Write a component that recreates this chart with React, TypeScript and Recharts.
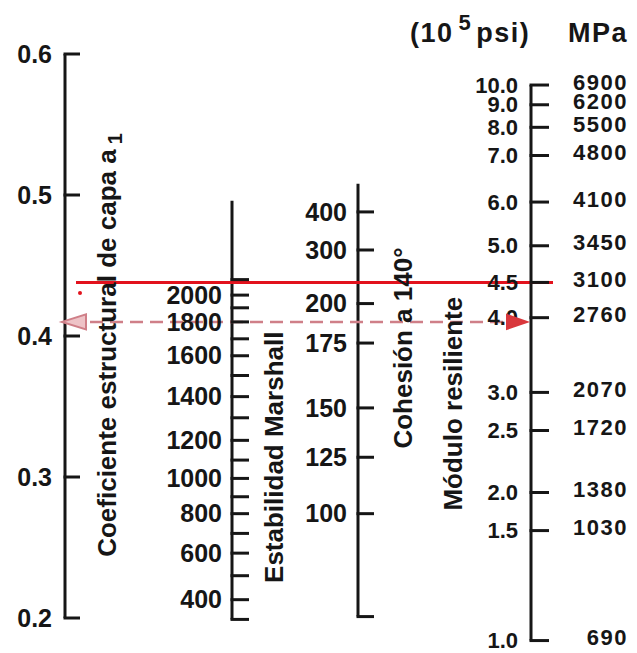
import { ReferenceLine, Scatter, ScatterChart, XAxis, YAxis } from "recharts"

const WIDTH = 637
const HEIGHT = 653
const INK = "#161616"
const FONT = "'Liberation Sans', Arial, sans-serif"

// the a1 scale is the common vertical axis of the nomograph,
// every other scale is read off as its a1 equivalent
const a1Ticks = [0.6, 0.5, 0.4, 0.3, 0.2]

const marshallValues = [
  2100, 2000, 1900, 1800, 1700, 1600, 1500, 1400, 1300, 1200, 1100, 1000, 900,
  800, 700, 600, 500, 400, 300,
]
const marshallA1 = [
  0.44, 0.429, 0.42, 0.41, 0.398, 0.386, 0.372, 0.357, 0.342, 0.326, 0.312,
  0.299, 0.286, 0.274, 0.26, 0.246, 0.23, 0.213, 0.199,
]
const marshallLabeled = [2000, 1800, 1600, 1400, 1200, 1000, 800, 600, 400]
const marshallTop = 0.496

const cohesionValues = [400, 300, 200, 175, 150, 125, 100]
const cohesionA1 = [0.488, 0.461, 0.423, 0.395, 0.349, 0.314, 0.274]
const cohesionTop = 0.508
const cohesionBottom = 0.201

const modulusPsi = [
  "10.0", "9.0", "8.0", "7.0", "6.0", "5.0", "4.5", "4.0", "3.0", "2.5", "2.0",
  "1.5", "1.0",
]
const modulusMpa = [
  "6900", "6200", "5500", "4800", "4100", "3450", "3100", "2760", "2070",
  "1720", "1380", "1030", "690",
]
const modulusA1 = [
  0.578, 0.564, 0.548, 0.528, 0.495, 0.464, 0.438, 0.413, 0.36, 0.333, 0.289,
  0.262, 0.184,
]

// worked example drawn in red
const exampleModulus = "4.5"
const exampleA1 = 0.41
const strayDotA1 = 0.4305

// horizontal placement of the scales (x in px)
const COL = { a1: 65, marshall: 232, cohesion: 358, modulus: 531 }

const titles = [
  { x: 116, y: 0.3936, text: "Coeficiente estructural de capa a", sub: "1" },
  { x: 283, y: 0.314, text: "Estabilidad Marshall" },
  { x: 412, y: 0.3915, text: "Cohesión a 140°" },
  { x: 462, y: 0.352, text: "Módulo resiliente" },
]

function makeTick(len: number, gap: number, size = 25, rightSize = 23) {
  return (props: any) => {
    const { cx, cy, payload } = props
    return (
      <g>
        <line
          x1={cx - 1.5}
          y1={cy}
          x2={cx + len}
          y2={cy}
          stroke={INK}
          strokeWidth={3}
        />
        {payload.label ? (
          <text
            x={cx - gap}
            y={cy}
            dy="0.35em"
            textAnchor="end"
            fontFamily={FONT}
            fontWeight="bold"
            fontSize={size}
            fill={INK}
          >
            {payload.label}
          </text>
        ) : null}
        {payload.right ? (
          <text
            x={cx + 97}
            y={cy - 3}
            dy="0.35em"
            textAnchor="end"
            fontFamily={FONT}
            fontWeight="bold"
            fontSize={rightSize}
            letterSpacing={1.5}
            fill={INK}
          >
            {payload.right}
          </text>
        ) : null}
      </g>
    )
  }
}

function TitleShape(props: any) {
  const { cx, cy, payload } = props
  return (
    <text
      x={cx}
      y={cy}
      transform={`rotate(-90 ${cx} ${cy})`}
      textAnchor="middle"
      fontFamily={FONT}
      fontWeight="bold"
      fontSize={26}
      fill={INK}
    >
      {payload.text}
      {payload.sub ? (
        <tspan dx={5} dy={6} fontSize={20}>
          {payload.sub}
        </tspan>
      ) : null}
    </text>
  )
}

function HeaderShape(props: any) {
  const { cx, cy } = props
  return (
    <g fontFamily={FONT} fontWeight="bold" fill={INK}>
      <text x={cx - 121} y={cy} fontSize={27} letterSpacing={1.5}>
        (10
        <tspan dx={5} dy={-12} fontSize={22}>
          5
        </tspan>
        <tspan dx={4} dy={12}>
          psi)
        </tspan>
      </text>
      <text x={cx + 37} y={cy} fontSize={27} letterSpacing={1.5}>
        MPa
      </text>
    </g>
  )
}

function Arrow(props: any) {
  const { cx, cy, payload } = props
  if (payload.dir < 0) {
    return (
      <path
        d={`M${cx},${cy} L${cx + 24},${cy - 7.5} L${cx + 24},${cy + 7.5} Z`}
        fill="#eec3c7"
        stroke="#cf7f88"
        strokeWidth={2}
      />
    )
  }
  return (
    <path
      d={`M${cx},${cy} L${cx - 20},${cy - 7} L${cx - 20},${cy + 7} Z`}
      fill="#d9373c"
      stroke="#d9373c"
      strokeWidth={2}
    />
  )
}

export default function App() {
  const a1Data = a1Ticks.map((v) => ({ x: COL.a1, y: v, label: v.toFixed(1) }))
  const marshallData = marshallValues.map((v, i) => ({
    x: COL.marshall,
    y: marshallA1[i],
    label: marshallLabeled.includes(v) ? String(v) : "",
  }))
  const cohesionData = [
    ...cohesionValues.map((v, i) => ({
      x: COL.cohesion,
      y: cohesionA1[i],
      label: String(v),
    })),
    { x: COL.cohesion, y: cohesionBottom, label: "" },
  ]
  const modulusData = modulusPsi.map((v, i) => ({
    x: COL.modulus,
    y: modulusA1[i],
    label: v,
    right: modulusMpa[i],
  }))
  const solidA1 = modulusA1[modulusPsi.indexOf(exampleModulus)]
  const arrows = [
    { x: 62, y: exampleA1, dir: -1 },
    { x: 527, y: exampleA1, dir: 1 },
  ]

  return (
    <div
      style={{
        position: "absolute",
        left: 0,
        top: 0,
        width: WIDTH,
        height: HEIGHT,
        background: "#fff",
      }}
    >
      <ScatterChart
        width={WIDTH}
        height={HEIGHT}
        margin={{ top: 0, right: 0, bottom: 0, left: 0 }}
      >
        <XAxis type="number" dataKey="x" domain={[0, WIDTH]} hide allowDataOverflow />
        <YAxis
          type="number"
          dataKey="y"
          domain={[0.17518, 0.6383]}
          hide
          allowDataOverflow
        />

        {/* scale spines */}
        <ReferenceLine
          segment={[
            { x: COL.a1, y: 0.2 },
            { x: COL.a1, y: 0.6 },
          ]}
          stroke={INK}
          strokeWidth={3}
        />
        <ReferenceLine
          segment={[
            { x: COL.marshall, y: marshallA1[marshallA1.length - 1] },
            { x: COL.marshall, y: marshallTop },
          ]}
          stroke={INK}
          strokeWidth={3}
        />
        <ReferenceLine
          segment={[
            { x: COL.cohesion, y: cohesionBottom },
            { x: COL.cohesion, y: cohesionTop },
          ]}
          stroke={INK}
          strokeWidth={3}
        />
        <ReferenceLine
          segment={[
            { x: COL.modulus, y: modulusA1[modulusA1.length - 1] },
            { x: COL.modulus, y: modulusA1[0] },
          ]}
          stroke={INK}
          strokeWidth={3}
        />

        <Scatter data={a1Data} dataKey="y" shape={makeTick(15, 13)} isAnimationActive={false} />
        <Scatter data={marshallData} dataKey="y" shape={makeTick(17, 10)} isAnimationActive={false} />
        <Scatter data={cohesionData} dataKey="y" shape={makeTick(16, 11)} isAnimationActive={false} />
        <Scatter data={modulusData} dataKey="y" shape={makeTick(18, 13, 22, 22)} isAnimationActive={false} />

        <Scatter data={titles} dataKey="y" shape={TitleShape} isAnimationActive={false} />
        <Scatter
          data={[{ x: COL.modulus, y: 0.6085 }]}
          dataKey="y"
          shape={HeaderShape}
          isAnimationActive={false}
        />

        {/* worked example */}
        <ReferenceLine
          segment={[
            { x: 76, y: solidA1 },
            { x: 553, y: solidA1 },
          ]}
          stroke="#e2121d"
          strokeWidth={3}
        />
        <ReferenceLine
          segment={[
            { x: 70, y: exampleA1 },
            { x: 522, y: exampleA1 },
          ]}
          stroke="#cf7f88"
          strokeWidth={2.5}
          strokeDasharray="13 7"
        />
        <Scatter data={arrows} dataKey="y" shape={Arrow} isAnimationActive={false} />
        <Scatter
          data={[{ x: 80, y: strayDotA1 }]}
          dataKey="y"
          fill="#e2121d"
          shape={(p: any) => <circle cx={p.cx} cy={p.cy} r={2} fill="#e2121d" />}
          isAnimationActive={false}
        />
      </ScatterChart>
    </div>
  )
}
